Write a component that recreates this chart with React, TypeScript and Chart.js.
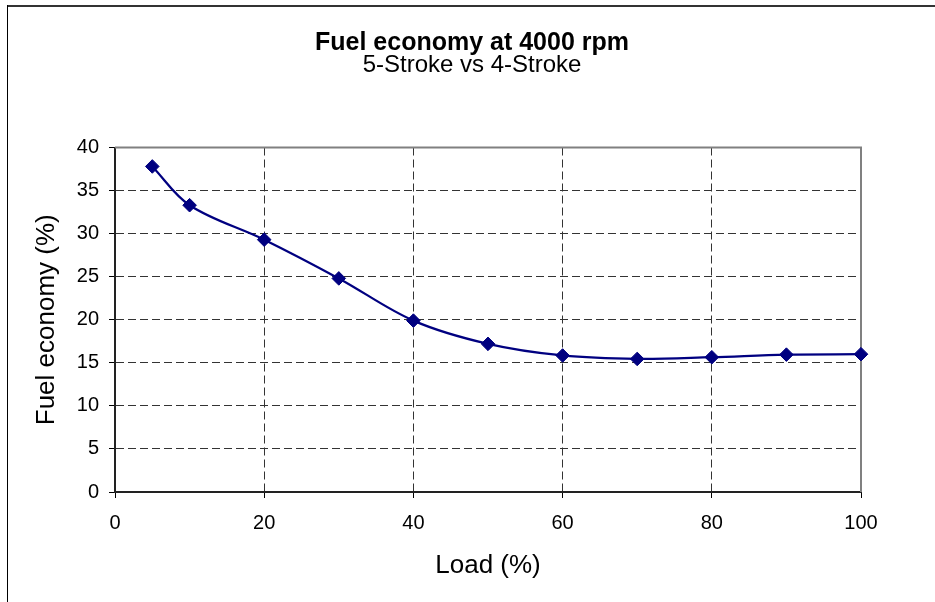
import { useEffect, useRef } from "react";
import { Chart, registerables } from "chart.js";

Chart.register(...registerables);

// Engine load (%) and measured fuel economy (%) at 4000 rpm
const loadPct = [5, 10, 20, 30, 40, 50, 60, 70, 80, 90, 100];
const fuelEconomy = [37.8, 33.3, 29.3, 24.8, 19.9, 17.2, 15.85, 15.45, 15.65, 15.95, 16.0];

const titleText = "Fuel economy at 4000 rpm";
const subtitleText = "5-Stroke vs 4-Stroke";
const xAxisTitle = "Load (%)";
const yAxisTitle = "Fuel economy (%)";

const xMin = 0;
const xMax = 100;
const xStep = 20;
const yMin = 0;
const yMax = 40;
const yStep = 5;

const FONT = "'Liberation Sans', Arial, Helvetica, sans-serif";
const NAVY = "#000080";

// Outer frame, white page and the grey top/right edges of the plot box
const framePlugin = {
  id: "frame",
  beforeDraw(chart: Chart) {
    const { ctx, width, height } = chart;
    ctx.save();
    ctx.fillStyle = "#ffffff";
    ctx.fillRect(0, 0, width, height);
    ctx.fillStyle = "#333333";
    ctx.fillRect(7, 5, width - 7, 2);
    ctx.fillStyle = "#000000";
    ctx.fillRect(7, 5, 1, height - 5);
    ctx.restore();
  },
  beforeDatasetsDraw(chart: Chart) {
    const { ctx, chartArea } = chart;
    const { left, right, top, bottom } = chartArea;
    ctx.save();
    ctx.strokeStyle = "#808080";
    ctx.lineWidth = 2;
    ctx.beginPath();
    ctx.moveTo(left, top);
    ctx.lineTo(right, top);
    ctx.lineTo(right, bottom);
    ctx.stroke();
    ctx.restore();
  },
};

export default function App() {
  const canvasRef = useRef<HTMLCanvasElement | null>(null);

  useEffect(() => {
    const canvas = canvasRef.current;
    if (!canvas) return;

    const points = loadPct.map((x, i) => ({ x, y: fuelEconomy[i] }));

    const chart = new Chart(canvas, {
      type: "line",
      data: {
        datasets: [
          {
            label: yAxisTitle,
            data: points,
            borderColor: NAVY,
            backgroundColor: NAVY,
            borderWidth: 2.25,
            tension: 0.35,
            pointStyle: "rectRot",
            pointRadius: 6.8,
            pointBorderWidth: 1,
            pointBackgroundColor: NAVY,
            pointBorderColor: NAVY,
            clip: false,
          },
        ],
      },
      plugins: [framePlugin],
      options: {
        responsive: false,
        animation: false,
        devicePixelRatio: 1,
        layout: { padding: { left: 9, top: 0, right: 0, bottom: 0 } },
        plugins: {
          legend: { display: false },
          tooltip: { enabled: false },
          title: {
            display: true,
            text: titleText,
            color: "#000",
            font: { family: FONT, size: 25, weight: "bold", lineHeight: 1.0 },
            padding: { top: 30.5, bottom: 0 },
          },
          subtitle: {
            display: true,
            text: subtitleText,
            color: "#000",
            font: { family: FONT, size: 24, weight: "normal", lineHeight: 1.0 },
            padding: { top: -2.5, bottom: 70.5 },
          },
        },
        scales: {
          x: {
            type: "linear",
            min: xMin,
            max: xMax,
            afterFit(scale: any) {
              scale.height = 110;
            },
            ticks: {
              stepSize: xStep,
              color: "#000",
              padding: 13,
              maxRotation: 0,
              font: { family: FONT, size: 20 },
            },
            grid: {
              color: (ctx: any) =>
                ctx.tick && (ctx.tick.value === xMin || ctx.tick.value === xMax)
                  ? "rgba(0,0,0,0)"
                  : "#333333",
              lineWidth: 1,
              tickColor: "#000",
              tickLength: 6,
              tickWidth: 1,
              tickBorderDash: [],
            },
            border: { display: true, color: "#222222", width: 2, dash: [8, 4] },
            title: {
              display: true,
              text: xAxisTitle,
              color: "#000",
              font: { family: FONT, size: 26, lineHeight: 1.2 },
              padding: { top: 0, bottom: 20.5 },
            },
          },
          y: {
            type: "linear",
            min: yMin,
            max: yMax,
            afterFit(scale: any) {
              scale.width = 106;
            },
            ticks: {
              stepSize: yStep,
              color: "#000",
              padding: 10,
              font: { family: FONT, size: 20 },
            },
            grid: {
              color: (ctx: any) =>
                ctx.tick && (ctx.tick.value === yMin || ctx.tick.value === yMax)
                  ? "rgba(0,0,0,0)"
                  : "#333333",
              lineWidth: 1,
              tickColor: "#000",
              tickLength: 6,
              tickWidth: 1,
              tickBorderDash: [],
            },
            border: { display: true, color: "#222222", width: 2, dash: [8, 4] },
            title: {
              display: true,
              text: yAxisTitle,
              color: "#000",
              font: { family: FONT, size: 26, lineHeight: 1.2 },
              padding: { top: 22, bottom: 0 },
            },
          },
          // empty margin on the right so the titles centre on the whole frame
          spacer: {
            type: "linear",
            position: "right",
            display: true,
            afterFit(scale: any) {
              scale.width = 74;
            },
            ticks: { display: false },
            grid: { display: false },
            border: { display: false },
          },
        },
      },
    });

    return () => chart.destroy();
  }, []);

  return (
    <div style={{ position: "fixed", left: 0, top: 0, width: 935, height: 602, background: "#fff" }}>
      <canvas ref={canvasRef} width={935} height={602} style={{ width: 935, height: 602, display: "block" }} />
    </div>
  );
}
